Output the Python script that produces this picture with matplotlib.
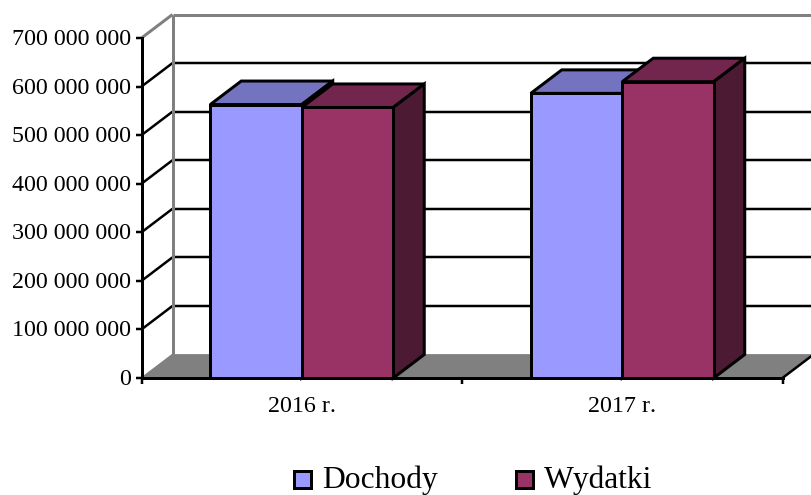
import matplotlib
matplotlib.use("Agg")
import matplotlib.pyplot as plt
from matplotlib.patches import Polygon, Rectangle
from matplotlib.transforms import ScaledTranslation

plt.rcParams['font.family'] = ['Liberation Serif', 'DejaVu Serif']
plt.rcParams['text.kerning_factor'] = 6

categories = ["2016 r.", "2017 r."]
dochody = [563e6, 586e6]
wydatki = [557e6, 610e6]
y_ticks = [0, 100e6, 200e6, 300e6, 400e6, 500e6, 600e6, 700e6]
y_labels = ["0", "100 000 000", "200 000 000", "300 000 000", "400 000 000",
            "500 000 000", "600 000 000", "700 000 000"]
legend_names = ["Dochody", "Wydatki"]

W, H = 811, 495
fig = plt.figure(figsize=(W / 100, H / 100), dpi=100)
L, R, B, T = 141.5, 782.5, 378.0, 38.0
ax = fig.add_axes([L / W, 1 - B / H, (R - L) / W, (B - T) / H])
ax.set_xlim(0, 2)
ax.set_ylim(0, 700e6)
ax.patch.set_alpha(0)

px = 0.72
DX = 31 / ((R - L) / 2)
DY = 23.5 / (B - T) * 700e6
GRAY = "#808080"

def poly(xy, fc, ec, lw, z):
    ax.add_patch(Polygon(xy, closed=True, facecolor=fc, edgecolor=ec, linewidth=lw * px,
                         zorder=z, clip_on=False, joinstyle="miter"))

def line(xs, ys, c, lw, z):
    ax.plot(xs, ys, color=c, lw=lw * px, zorder=z, clip_on=False, solid_capstyle="butt")

# floor
poly([(0, 0), (2, 0), (2 + DX, DY), (DX, DY)], GRAY, "none", 0, 1)
line([DX, 2 + DX], [DY, DY], GRAY, 1.5, 1.5)
line([0, DX], [0, DY], GRAY, 1.5, 1.5)
line([2, 2 + DX], [0, DY], "black", 2.5, 1.5)

# walls and gridlines
for v in y_ticks[1:-1]:
    line([DX, 2 + DX], [v + DY, v + DY], "black", 2.5, 2)
    line([0, DX], [v, v + DY], "black", 2.5, 2)
line([DX, DX], [DY, 700e6 + DY], GRAY, 3, 2.5)
line([DX, 2 + DX], [700e6 + DY] * 2, GRAY, 3, 2.5)
line([0, DX], [700e6, 700e6 + DY], GRAY, 3, 2.5)

# bars
bw = 91.5 / ((R - L) / 2)
series = [(dochody, -1, "#9999FF", "#7373BF", "#4D4D80"),
          (wydatki, 0, "#993366", "#73264D", "#4D1A33")]
for vals, off, front, top, side in series:
    for i, v in enumerate(vals):
        x0 = i + 0.5 + off * bw
        x1 = x0 + bw
        z = 3 + i + (off + 1) * 0.1
        poly([(x0, v), (x1, v), (x1 + DX, v + DY), (x0 + DX, v + DY)], top, "black", 3, z)
        poly([(x1, 0), (x1 + DX, DY), (x1 + DX, v + DY), (x1, v)], side, "black", 3, z)
        poly([(x0, 0), (x1, 0), (x1, v), (x0, v)], front, "black", 3, z + 0.01)

# axes
for s in ("top", "right"):
    ax.spines[s].set_visible(False)
for s in ("left", "bottom"):
    ax.spines[s].set_linewidth(3 * px)
    ax.spines[s].set_zorder(10)
ax.set_yticks(y_ticks, y_labels, fontsize=17.3)
ax.set_xticks([0, 1, 2], ["", "", ""])
ax.set_xticks([0.5, 1.5], categories, minor=True, fontsize=17.3)
ax.tick_params(axis="y", length=6 * px, width=2.5 * px, pad=4 * px)
ax.tick_params(axis="x", which="major", length=6 * px, width=2.5 * px)
ax.tick_params(axis="x", which="minor", length=0, pad=18 * px)
shift = ScaledTranslation(0, 1 / 100, fig.dpi_scale_trans)
for lab in ax.get_yticklabels():
    lab.set_transform(lab.get_transform() + shift)

# legend
for name, color, sx, tx in zip(legend_names, ["#9999FF", "#993366"], [294, 516], [322, 544]):
    fig.add_artist(Rectangle((sx / W, 1 - 487.5 / H), 17 / W, 17 / H, transform=fig.transFigure,
                             facecolor=color, edgecolor="black", linewidth=3 * px))
    fig.text(tx / W, 1 - 488 / H, name, fontsize=22.7, ha="left", va="baseline")

fig.savefig("out.png", dpi=100)
